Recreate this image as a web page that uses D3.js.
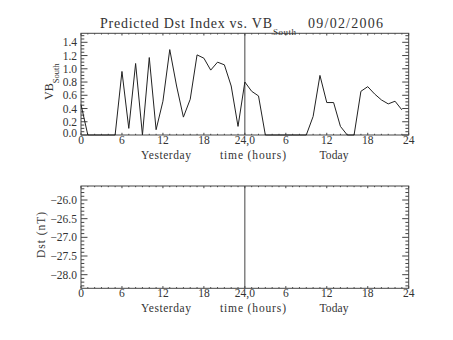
<!DOCTYPE html>
<html><head><meta charset="utf-8">
<script src="https://cdn.jsdelivr.net/npm/d3@7"></script>
<style>body{margin:0;background:#fff}svg{display:block}text{font-family:"Liberation Serif","DejaVu Serif",serif;fill:#333}</style>
</head><body><svg id="c" width="453" height="340"></svg>
<script>
const hours = d3.range(0, 48);
const vbSouth = [0.46,0,0,0,0,0,0.96,0.10,1.08,0,1.17,0.08,0.51,1.29,0.74,0.27,0.54,1.21,1.16,0.98,1.10,1.06,0.74,0.13,
                 0.80,0.66,0.59,0,0,0,0,0,0,0,0.28,0.90,0.49,0.49,0.13,0,0,0.66,0.73,0.62,0.53,0.47,0.51,0.38];
const xTicks = [0,6,12,18,24,30,36,42,48];
const xTickLabels = ["0","6","12","18","24,0","6","12","18","24"];
const vbTicks = [0,0.2,0.4,0.6,0.8,1.0,1.2,1.4];
const dstTicks = [-26.0,-26.5,-27.0,-27.5,-28.0];
const dstValues = [];

const svg = d3.select("#c");
const L = 81, R = 408.7;
const x = d3.scaleLinear().domain([0,48]).range([L,R]);
const yV = d3.scaleLinear().domain([0,1.536]).range([135,33.3]);
const yD = d3.scaleLinear().domain([-28.365,-25.625]).range([288.3,186]);
const stroke = "#444";
const FS = 11.5;

function panel(y, top, bot, ticks, minorStep, fmt) {
  const g = svg.append("g");
  g.append("rect").attr("x",L).attr("y",top).attr("width",R-L).attr("height",bot-top)
    .attr("fill","none").attr("stroke",stroke).attr("stroke-width",1);
  const xMinor = d3.range(0,48.01,1);
  xMinor.forEach(h=>{
    const len = (h%6===0)?2.2:1.2;
    const px = x(h);
    g.append("line").attr("x1",px).attr("x2",px).attr("y1",bot).attr("y2",bot-len).attr("stroke",stroke);
    g.append("line").attr("x1",px).attr("x2",px).attr("y1",top).attr("y2",top+len).attr("stroke",stroke);
  });
  const [d0,d1] = y.domain();
  const start = Math.ceil(d0/minorStep-1e-6)*minorStep;
  for (let v=start; v<=d1+1e-9; v+=minorStep) {
    const major = ticks.some(t=>Math.abs(t-v)<1e-6);
    const len = major?6.5:3.3;
    const py = y(v);
    g.append("line").attr("x1",L).attr("x2",L+len).attr("y1",py).attr("y2",py).attr("stroke",stroke);
    g.append("line").attr("x1",R).attr("x2",R-len).attr("y1",py).attr("y2",py).attr("stroke",stroke);
  }
  ticks.forEach(t=>{
    g.append("text").attr("x",77).attr("y",Math.min(y(t),bot-2.5)).attr("dy","0.35em").attr("text-anchor","end")
      .attr("font-size",FS).text(fmt(t).replace("-","\u2212"));
  });
  xTicks.forEach((t,i)=>{
    g.append("text").attr("x",x(t)).attr("y",bot+8.5).attr("text-anchor","middle")
      .attr("font-size",FS).text(xTickLabels[i]);
  });
  const ly = bot+24;
  g.append("text").attr("x",166).attr("y",ly).attr("text-anchor","middle").attr("font-size",FS)
    .attr("textLength",50).text("Yesterday");
  g.append("text").attr("x",253).attr("y",ly).attr("text-anchor","middle").attr("font-size",FS)
    .attr("textLength",66).text("time (hours)");
  g.append("text").attr("x",334).attr("y",ly).attr("text-anchor","middle").attr("font-size",FS)
    .attr("textLength",29).text("Today");
  g.append("line").attr("x1",x(24)).attr("x2",x(24)).attr("y1",top).attr("y2",bot).attr("stroke",stroke);
  return g;
}

panel(yV,33.3,135,vbTicks,0.05,d3.format(".1f"));
panel(yD,186,288.3,dstTicks,0.1,d3.format(".1f"));

svg.append("path").datum(hours.map((h,i)=>[h,vbSouth[i]]))
  .attr("fill","none").attr("stroke","#222").attr("stroke-width",1)
  .attr("d", d3.line().x(d=>x(d[0])).y(d=>yV(d[1])));

if (dstValues.length) {
  svg.append("path").datum(dstValues.map((v,i)=>[i,v]))
    .attr("fill","none").attr("stroke","#222")
    .attr("d", d3.line().x(d=>x(d[0])).y(d=>yD(d[1])));
}

svg.append("text").attr("x",100).attr("y",28).attr("font-size",14).attr("textLength",172)
  .text("Predicted Dst Index vs. VB");
svg.append("text").attr("x",273).attr("y",35).attr("font-size",9).attr("textLength",23).text("South");
svg.append("text").attr("x",308).attr("y",28).attr("font-size",14).attr("textLength",75).text("09/02/2006");

svg.append("text").attr("transform","translate(53,100) rotate(-90)").attr("font-size",12)
  .text("VB").append("tspan").attr("font-size",8.5).attr("dy",6).text("South");
svg.append("text").attr("transform","translate(45,235) rotate(-90)").attr("text-anchor","middle")
  .attr("font-size",FS).attr("textLength",46).text("Dst (nT)");
</script></body></html>
